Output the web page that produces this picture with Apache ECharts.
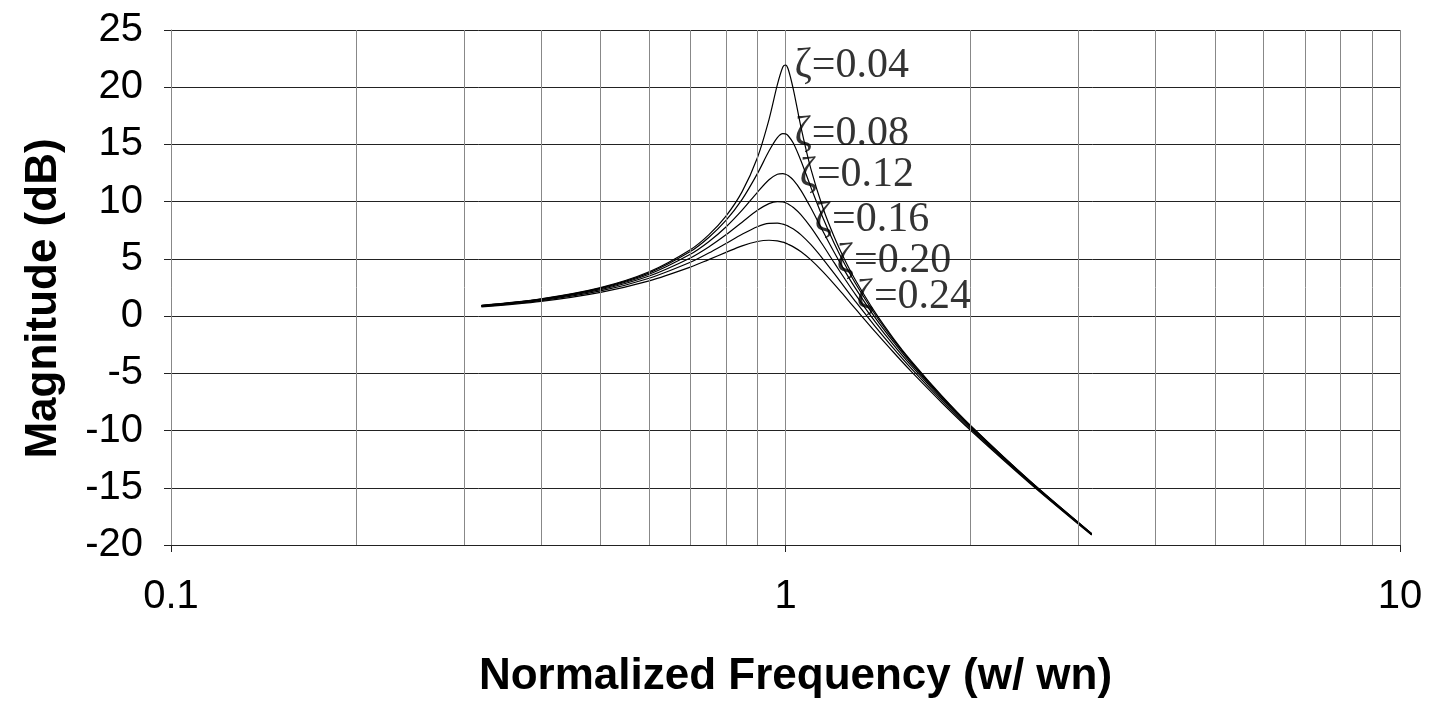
<!DOCTYPE html>
<html>
<head>
<meta charset="utf-8">
<script src="https://cdn.jsdelivr.net/npm/echarts@6/dist/echarts.min.js"></script>
<style>
  html, body { margin: 0; padding: 0; background: #fff; }
  #chart { width: 1429px; height: 704px; }
</style>
</head>
<body>
<div id="chart"></div>
<script>
// normalized frequency (w/wn) sample points
const freq = [0.32, 0.4, 0.5, 0.6, 0.7, 0.75, 0.8, 0.85, 0.9, 0.94, 0.97, 0.99, 1.0, 1.01, 1.03, 1.06, 1.1, 1.15, 1.2, 1.25, 1.3, 1.4, 1.5, 1.6, 1.8, 2.0, 2.5, 3.15];

// magnitude (dB) per damping ratio
const mag004 = [0.94, 1.51, 2.49, 3.87, 5.80, 7.10, 8.74, 10.88, 13.84, 17.17, 20.22, 21.76, 21.94, 21.59, 19.79, 16.48, 12.85, 9.49, 6.93, 4.86, 3.13, 0.30, -1.98, -3.89, -7.02, -9.56, -14.41, -19.01];
const mag008 = [0.92, 1.49, 2.45, 3.78, 5.64, 6.87, 8.36, 10.20, 12.45, 14.42, 15.59, 15.94, 15.92, 15.76, 15.11, 13.56, 11.25, 8.61, 6.37, 4.48, 2.85, 0.12, -2.10, -3.98, -7.08, -9.59, -14.43, -19.02];
const mag012 = [0.91, 1.46, 2.39, 3.66, 5.40, 6.50, 7.79, 9.26, 10.82, 11.91, 12.39, 12.45, 12.40, 12.28, 11.88, 10.97, 9.44, 7.44, 5.58, 3.91, 2.42, -0.15, -2.28, -4.12, -7.16, -9.65, -14.46, -19.04];
const mag016 = [0.88, 1.42, 2.31, 3.50, 5.08, 6.04, 7.10, 8.21, 9.24, 9.83, 10.01, 9.97, 9.90, 9.79, 9.49, 8.85, 7.75, 6.21, 4.67, 3.22, 1.88, -0.50, -2.54, -4.31, -7.28, -9.74, -14.50, -19.07];
const mag020 = [0.85, 1.36, 2.20, 3.31, 4.70, 5.51, 6.35, 7.15, 7.81, 8.10, 8.12, 8.04, 7.96, 7.86, 7.61, 7.10, 6.24, 5.01, 3.73, 2.47, 1.27, -0.92, -2.84, -4.54, -7.43, -9.84, -14.56, -19.10];
const mag024 = [0.81, 1.29, 2.08, 3.08, 4.28, 4.94, 5.57, 6.14, 6.52, 6.63, 6.57, 6.46, 6.38, 6.28, 6.05, 5.62, 4.91, 3.89, 2.80, 1.70, 0.63, -1.38, -3.18, -4.81, -7.61, -9.97, -14.62, -19.13];

const curves = [mag004, mag008, mag012, mag016, mag020, mag024];

// in-plot curve labels and where they sit (data coords)
const labelText = ["ζ=0.04", "ζ=0.08", "ζ=0.12", "ζ=0.16", "ζ=0.20", "ζ=0.24"];
const labelX = [1.034, 1.034, 1.054, 1.115, 1.211, 1.305];
const labelY = [21.85, 15.93, 12.36, 8.44, 4.79, 1.65];

// minor log gridlines
const minorTicks = [0.2, 0.3, 0.4, 0.5, 0.6, 0.7, 0.8, 0.9, 2, 3, 4, 5, 6, 7, 8, 9];

const chart = echarts.init(document.getElementById("chart"));

const sans = "Liberation Sans, Arial, sans-serif";
const serif = "Liberation Serif, Times New Roman, serif";

chart.setOption({
  animation: false,
  backgroundColor: "#fff",
  grid: { left: 171, right: 29, top: 30, bottom: 156, containLabel: false },
  xAxis: {
    type: "log",
    logBase: 10,
    min: 0.1,
    max: 10,
    name: "Normalized Frequency (w/ wn)",
    nameLocation: "middle",
    nameGap: 110,
    nameTextStyle: { fontFamily: sans, fontSize: 44, fontWeight: "bold", color: "#000", padding: [0, 0, 0, 20] },
    axisLine: { show: true, onZero: false, lineStyle: { color: "#222", width: 1 } },
    axisTick: { show: true, length: 7, lineStyle: { color: "#222" } },
    axisLabel: {
      fontFamily: sans, fontSize: 40, color: "#000", margin: 32,
      formatter: (v) => String(+(+v).toPrecision(3)),
    },
    splitLine: { show: true, lineStyle: { color: "#888", width: 1 } },
  },
  yAxis: {
    type: "value",
    min: -20,
    max: 25,
    interval: 5,
    name: "Magnitude (dB)",
    nameLocation: "middle",
    nameGap: 105,
    nameTextStyle: { fontFamily: sans, fontSize: 44, fontWeight: "bold", color: "#000", padding: [0, 22, 0, 0] },
    axisLine: { show: true, lineStyle: { color: "#888", width: 1 } },
    axisTick: { show: true, length: 7, lineStyle: { color: "#222" } },
    axisLabel: { fontFamily: sans, fontSize: 40, color: "#000", margin: 28 },
    splitLine: { show: true, lineStyle: { color: "#222", width: 1 } },
  },
  series: [
    {
      type: "line",
      data: [],
      silent: true,
      markLine: {
        symbol: "none",
        silent: true,
        label: { show: false },
        lineStyle: { color: "#888", type: "solid", width: 1 },
        data: minorTicks.map((v) => ({ xAxis: v })),
      },
    },
    ...curves.map((ys) => ({
      type: "line",
      data: freq.map((f, i) => [f, ys[i]]),
      showSymbol: false,
      smooth: 0.3,
      lineStyle: { color: "#000", width: 1.2 },
      z: 3,
    })),
    {
      type: "scatter",
      data: labelX.map((x, i) => [x, labelY[i], labelText[i]]),
      symbolSize: 0,
      z: 4,
      label: {
        show: true,
        position: "right",
        distance: 0,
        formatter: (p) => p.data[2],
        fontFamily: serif,
        fontSize: 42,
        color: "#000",
      },
    },
  ],
});
</script>
</body>
</html>
